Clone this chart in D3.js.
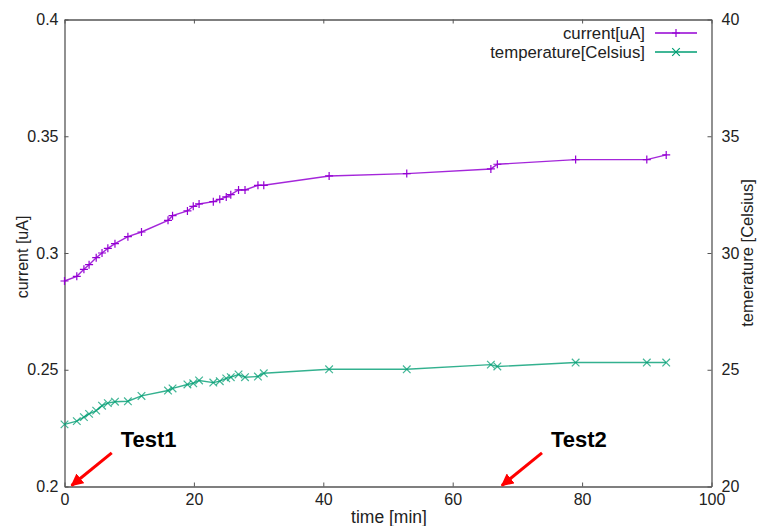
<!DOCTYPE html>
<html>
<head>
<meta charset="utf-8">
<script src="https://cdn.jsdelivr.net/npm/d3@7"></script>
<style>
  html, body { margin: 0; padding: 0; background: #fff; }
  svg { display: block; font-family: "Liberation Sans", Arial, Helvetica, sans-serif; }
</style>
</head>
<body>
<svg id="chart" width="757" height="526"></svg>
<script>
// ---- data ----
const timeMin = [0, 1.9, 3.0, 3.8, 4.9, 5.8, 6.7, 7.8, 9.8, 11.9, 16.0, 16.7, 19.0, 19.9, 20.8,
  23.0, 24.0, 25.0, 25.7, 26.9, 27.9, 29.9, 30.8, 40.9, 52.9, 65.9, 66.9, 79.0, 90.0, 93.0];
const currentUA = [0.288, 0.290, 0.293, 0.295, 0.298, 0.300, 0.302, 0.304, 0.307, 0.309, 0.314, 0.316,
  0.318, 0.320, 0.321, 0.322, 0.323, 0.324, 0.325, 0.327, 0.327, 0.329, 0.329, 0.333, 0.334, 0.336,
  0.338, 0.340, 0.340, 0.342];
const temperatureC = [22.66, 22.80, 22.97, 23.11, 23.25, 23.46, 23.57, 23.63, 23.65, 23.88, 24.11, 24.20,
  24.37, 24.42, 24.54, 24.45, 24.51, 24.63, 24.68, 24.80, 24.68, 24.71, 24.85, 25.02, 25.02, 25.22,
  25.14, 25.31, 25.31, 25.31];
const xTicks = [0, 20, 40, 60, 80, 100];
const yTicks = [0.2, 0.25, 0.3, 0.35, 0.4];
const y2Ticks = [20, 25, 30, 35, 40];
const seriesNames = ["current[uA]", "temperature[Celsius]"];
const annotLabels = ["Test1", "Test2"];
const annotTipX = [1.1, 67.6];
const annotTailX = [7.3, 73.8];
const annotTailY = 0.2144;

// ---- layout ----
const L = 64.5, R = 711.5, T = 19.5, B = 486.5;
const purple = "#9400d3", green = "#009e73", axisCol = "#555";
const svg = d3.select("#chart");

const x = d3.scaleLinear().domain([0, 100]).range([L, R]);
const y = d3.scaleLinear().domain([0.2, 0.4]).range([B, T]);
const y2 = d3.scaleLinear().domain([20, 40]).range([B, T]);

function styleAxis(g) {
  g.selectAll(".domain").attr("stroke", axisCol).attr("stroke-width", 1.3);
  g.selectAll(".tick line").attr("stroke", axisCol).attr("stroke-width", 1);
  g.selectAll(".tick text").attr("fill", "#222").style("font-size", "16px")
    .style("font-family", "'Liberation Sans', Arial, sans-serif");
}

svg.append("g").attr("transform", `translate(0,${B})`)
  .call(d3.axisBottom(x).tickValues(xTicks).tickFormat(d => String(d)).tickSizeInner(-4).tickSizeOuter(0).tickPadding(7))
  .call(styleAxis);
svg.append("g").attr("transform", `translate(0,${T})`)
  .call(d3.axisTop(x).tickValues(xTicks).tickFormat("").tickSizeInner(-4).tickSizeOuter(0))
  .call(styleAxis);
svg.append("g").attr("transform", `translate(${L},0)`)
  .call(d3.axisLeft(y).tickValues(yTicks).tickFormat(d => String(d)).tickSizeInner(-4).tickSizeOuter(0).tickPadding(6))
  .call(styleAxis);
svg.append("g").attr("transform", `translate(${R},0)`)
  .call(d3.axisRight(y2).tickValues(y2Ticks).tickFormat(d => String(d)).tickSizeInner(-4).tickSizeOuter(0).tickPadding(10))
  .call(styleAxis);

// ---- axis titles ----
svg.append("text").attr("transform", `translate(22,257) rotate(-90)`)
  .attr("text-anchor", "middle").attr("dominant-baseline", "central")
  .style("font-size", "16px").attr("fill", "#222").text("current [uA]");
svg.append("text").attr("transform", `translate(747,253) rotate(-90)`)
  .attr("text-anchor", "middle").attr("dominant-baseline", "central")
  .style("font-size", "16.5px").attr("fill", "#222").text("temerature [Celsius]");
svg.append("text").attr("x", 389).attr("y", 523)
  .attr("text-anchor", "middle")
  .style("font-size", "17.5px").attr("fill", "#222").text("time [min]");

// ---- series ----
const curData = timeMin.map((t, i) => ({ t, v: currentUA[i] }));
const tmpData = timeMin.map((t, i) => ({ t, v: temperatureC[i] }));

const plusPath = s => `M${-s},0H${s}M0,${-s}V${s}`;
const crossPath = s => `M${-s},${-s}L${s},${s}M${-s},${s}L${s},${-s}`;

svg.append("path").datum(curData)
  .attr("d", d3.line().x(d => x(d.t)).y(d => y(d.v)))
  .attr("fill", "none").attr("stroke", purple).attr("stroke-width", 1.4).attr("opacity", 0.85);
svg.append("g").selectAll("path").data(curData).join("path")
  .attr("transform", d => `translate(${x(d.t)},${y(d.v)})`)
  .attr("d", plusPath(4)).attr("stroke", purple).attr("stroke-width", 1.2).attr("fill", "none");

svg.append("path").datum(tmpData)
  .attr("d", d3.line().x(d => x(d.t)).y(d => y2(d.v)))
  .attr("fill", "none").attr("stroke", green).attr("stroke-width", 1.4).attr("opacity", 0.8);
svg.append("g").selectAll("path").data(tmpData).join("path")
  .attr("transform", d => `translate(${x(d.t)},${y2(d.v)})`)
  .attr("d", crossPath(3.8)).attr("stroke", green).attr("stroke-width", 1.2).attr("fill", "none").attr("opacity", 0.75);

// ---- legend ----
const legY = [33, 52];
const legCols = [purple, green];
seriesNames.forEach((name, i) => {
  const g = svg.append("g");
  g.append("text").attr("x", 645).attr("y", legY[i]).attr("text-anchor", "end")
    .attr("dominant-baseline", "central").style("font-size", "16.8px").attr("fill", "#222").text(name);
  g.append("line").attr("x1", 655).attr("x2", 697).attr("y1", legY[i]).attr("y2", legY[i])
    .attr("stroke", legCols[i]).attr("stroke-width", 1.4);
  g.append("path").attr("transform", `translate(676,${legY[i]})`)
    .attr("d", i === 0 ? plusPath(4) : crossPath(3.8))
    .attr("stroke", legCols[i]).attr("stroke-width", 1.2).attr("fill", "none");
});

// ---- annotations ----
const defs = svg.append("defs");
defs.append("marker").attr("id", "arrowhead").attr("viewBox", "0 0 10 10")
  .attr("refX", 9).attr("refY", 5).attr("markerWidth", 4.2).attr("markerHeight", 4.2)
  .attr("orient", "auto").attr("markerUnits", "strokeWidth")
  .append("path").attr("d", "M0,0L10,5L0,10Z").attr("fill", "#ff0000");

annotLabels.forEach((lab, i) => {
  const x0 = x(annotTailX[i]), y0 = y(annotTailY);
  svg.append("line").attr("x1", x0).attr("y1", y0)
    .attr("x2", x(annotTipX[i])).attr("y2", y(0.2) - 1)
    .attr("stroke", "#ff0000").attr("stroke-width", 3).attr("marker-end", "url(#arrowhead)");
  svg.append("text").attr("x", x0 + 9).attr("y", 447)
    .style("font-size", "22px").style("font-weight", "bold").attr("fill", "#000").text(lab);
});
</script>
</body>
</html>
